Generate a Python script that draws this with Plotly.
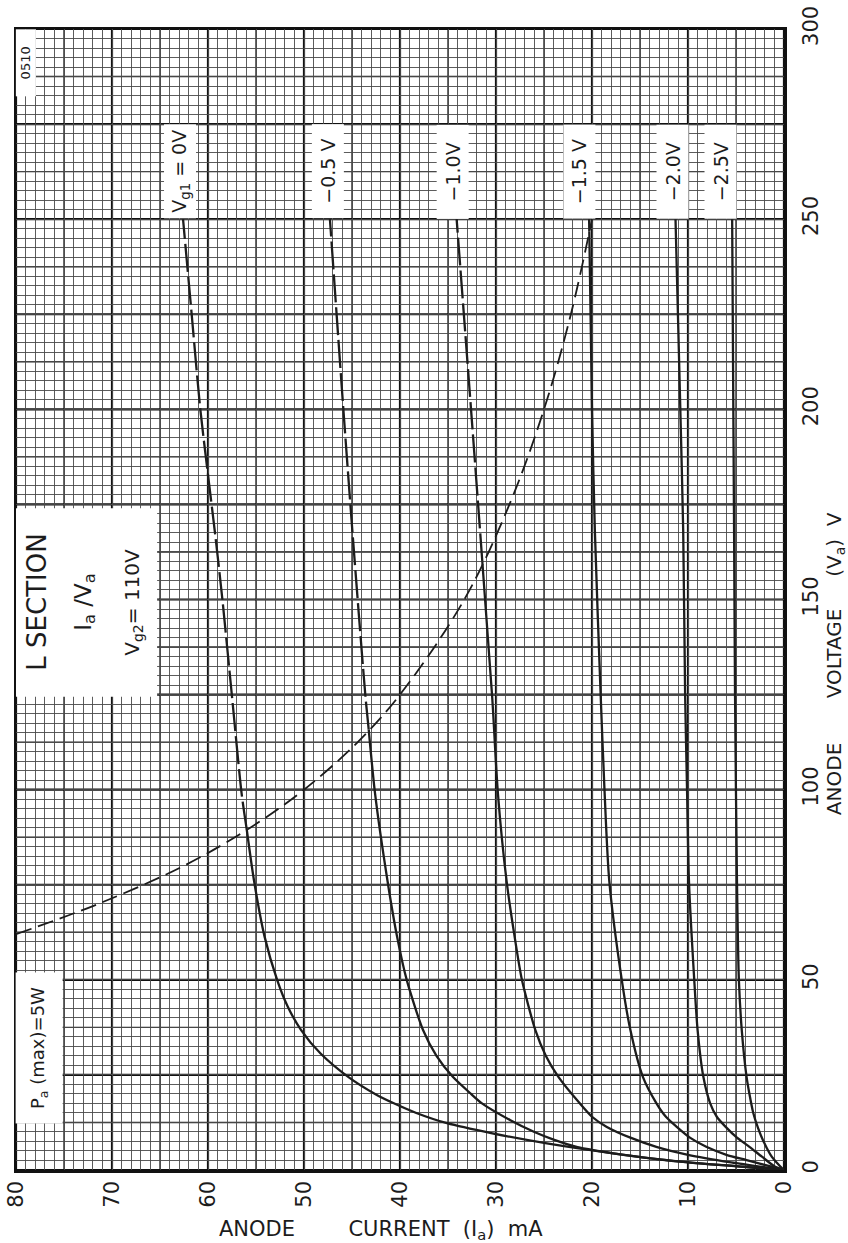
import numpy as np
import plotly.graph_objects as go

# ---- data: anode voltage (V) -> anode current (mA) ----
v_0v = [0, 1, 2.2, 4.4, 7, 9.7, 12.3, 15, 17.6, 20, 24.5, 30.7, 36.8, 43, 50, 61.3, 76, 99, 124.5, 150, 166, 200, 225, 250]
i_0v = [0, 5, 10.8, 17.8, 24.7, 30.5, 35.1, 38.3, 40.7, 42.6, 45.4, 48.3, 50.3, 51.7, 52.8, 54.1, 55.2, 56.5, 57.5, 58.5, 59.2, 60.8, 61.7, 62.6]

v_05v = [0, 2.2, 4.4, 6, 8, 10, 13.1, 17.6, 20, 24.5, 30, 36.8, 50, 61.3, 76, 99, 124.5, 166, 200, 250]
i_05v = [0, 10.8, 17.8, 21.5, 24, 26, 28.5, 31.5, 32.6, 34.5, 36.2, 37.6, 39.3, 40.3, 41.3, 42.6, 43.6, 44.9, 45.9, 47.3]

v_10v = [0, 2, 4, 6.1, 8.5, 11.4, 14, 17.6, 24.5, 30, 36.8, 50, 62, 76, 99, 124.5, 166, 200, 250]
i_10v = [0, 5.5, 10, 13.3, 16, 18.5, 20, 21.3, 23.5, 24.8, 25.9, 27.3, 28.1, 28.9, 29.8, 30.4, 31.6, 32.6, 34.1]

v_15v = [0, 1, 2.6, 4, 6.1, 8.5, 11.4, 14, 17.6, 24.5, 36.8, 50, 76, 100, 125, 168, 200, 250]
i_15v = [0, 1.5, 3.9, 6.0, 8.1, 9.8, 11.2, 12.3, 13.3, 14.7, 16.0, 16.9, 18.2, 18.7, 19.1, 19.7, 20.0, 20.3]

v_20v = [0, 1, 3.5, 6.1, 8.5, 11.4, 14, 17.6, 24.5, 36.8, 50, 76, 100, 125, 168, 200, 250]
i_20v = [0, 1.0, 2.3, 3.6, 4.9, 6.1, 7.0, 7.7, 8.4, 9.0, 9.35, 9.9, 10.1, 10.3, 10.5, 10.8, 11.3]

v_25v = [0, 1.5, 4, 7.9, 11, 15, 20, 24.5, 36.8, 50, 76, 125, 168, 250]
i_25v = [0, 0.6, 1.4, 2.2, 2.7, 3.2, 3.6, 3.9, 4.4, 4.7, 4.9, 5.1, 5.2, 5.4]

# Pa(max) = 5 W limit curve
v_pmax = [62, 70, 80, 90, 100, 112.5, 125, 150, 175, 200, 225, 250]
i_pmax = [80, 71.4, 62.5, 55.6, 50, 44.4, 40, 33.3, 28.6, 25, 22.2, 20]

curve_names = ["V<sub>g1</sub> = 0V", "−0.5 V", "−1.0V", "−1.5 V", "−2.0V", "−2.5V"]
curve_v = [v_0v, v_05v, v_10v, v_15v, v_20v, v_25v]
curve_i = [i_0v, i_05v, i_10v, i_15v, i_20v, i_25v]

x_ticks = list(range(0, 81, 10))
x_labels = [str(t) for t in x_ticks]
y_ticks = list(range(0, 301, 50))
y_labels = [str(t) for t in y_ticks]

FONT = "DejaVu Sans"
INK = "#1c1c1c"
SP = "\u00a0"

fig = go.Figure()


def split_at_limit(v, i):
    v = np.asarray(v, float)
    i = np.asarray(i, float)
    fine = np.linspace(v.min(), v.max(), 3000)
    diff = np.interp(fine, v, i) - np.interp(fine, v_pmax, i_pmax, left=np.inf, right=-np.inf)
    above = np.where(diff > 0)[0]
    if len(above) == 0 or fine[above[0]] >= v.max() - 1:
        return list(v), list(i), [], []
    vx = fine[above[0]]
    ix = np.interp(vx, v, i)
    lo = v < vx
    hi = v > vx
    vs = list(v[lo]) + [vx]
    is_ = list(i[lo]) + [ix]
    vd = [vx] + list(v[hi])
    idd = [ix] + list(i[hi])
    return vs, is_, vd, idd


for name, v, i in zip(curve_names, curve_v, curve_i):
    vs, is_, vd, idd = split_at_limit(v, i)
    fig.add_trace(go.Scatter(x=is_, y=vs, mode="lines", name=name,
                             line=dict(color=INK, width=2.3, shape="spline", smoothing=0.7),
                             showlegend=False, hoverinfo="skip"))
    if vd:
        fig.add_trace(go.Scatter(x=idd, y=vd, mode="lines", name=name,
                                 line=dict(color=INK, width=2.3, dash="28px,5px",
                                           shape="spline", smoothing=0.7),
                                 showlegend=False, hoverinfo="skip"))

fig.add_trace(go.Scatter(x=i_pmax, y=v_pmax, mode="lines", name="Pa(max)",
                         line=dict(color=INK, width=1.8, dash="16px,7px", shape="spline"),
                         showlegend=False, hoverinfo="skip"))

# graph-paper grid: medium lines every 5 mA / 12.5 V, heavy every 10 mA / 25 V
for xv in np.arange(0, 81, 5):
    heavy = (xv % 10 == 0)
    fig.add_shape(type="line", xref="x", yref="y", x0=xv, x1=xv, y0=0, y1=300,
                  line=dict(color="#111" if heavy else "#2a2a2a", width=2.2 if heavy else 1.4),
                  layer="below")
for yv in np.arange(0, 301, 12.5):
    heavy = (yv % 25 == 0)
    fig.add_shape(type="line", xref="x", yref="y", x0=0, x1=80, y0=yv, y1=yv,
                  line=dict(color="#111" if heavy else "#2a2a2a", width=2.2 if heavy else 1.4),
                  layer="below")

# curve labels (white boxes above the curve ends)
label_offsets = [0.3, 0.2, 0.4, 1.0, 0.3, 1.2]
for name, i, off in zip(curve_names, curve_i, label_offsets):
    fig.add_annotation(x=i[-1] + off, y=262.5, xref="x", yref="y", text=name,
                       textangle=-90, showarrow=False, bgcolor="white",
                       width=93, height=31, borderpad=0,
                       font=dict(family=FONT, size=19, color=INK))

# info box
fig.add_shape(type="rect", xref="x", yref="y", x0=80, x1=65.3, y0=124.4, y1=174,
              fillcolor="white", line=dict(width=0), layer="above")
for txt, xc, sz in [("L SECTION", 77.9, 26), ("I<sub>a</sub> /V<sub>a</sub>", 72.9, 23),
                    ("V<sub>g2</sub>= 110V", 67.9, 20)]:
    fig.add_annotation(x=xc, y=149.2, xref="x", yref="y", text=txt, textangle=-90,
                       showarrow=False, font=dict(family=FONT, size=sz, color=INK))

fig.add_annotation(x=77.6, y=32.1, xref="x", yref="y", text="P<sub>a</sub> (max)=5W",
                   textangle=-90, showarrow=False, bgcolor="white", width=150, height=46,
                   borderpad=0, font=dict(family=FONT, size=18, color=INK))

fig.add_annotation(x=79.0, y=291, xref="x", yref="y", text="0510",
                   textangle=-90, showarrow=False, bgcolor="white", width=66, height=19,
                   borderpad=0, font=dict(family=FONT, size=13, color=INK))

# axis titles
fig.add_annotation(x=42.0, y=0, xref="x", yref="paper",
                   text="ANODE" + SP * 8 + "CURRENT" + SP * 2 + "(I<sub>a</sub>)" + SP * 2 + "mA",
                   showarrow=False, xanchor="center", yanchor="top", yshift=-45,
                   font=dict(family=FONT, size=21, color=INK))
fig.add_annotation(x=1, y=133, xref="paper", yref="y",
                   text="ANODE" + SP * 7 + "VOLTAGE" + SP * 5 + "(V<sub>a</sub>)" + SP * 2 + "V",
                   textangle=-90, showarrow=False, xanchor="left", yanchor="middle", xshift=36,
                   font=dict(family=FONT, size=20, color=INK))

fig.update_xaxes(range=[80, 0], tickmode="array", tickvals=x_ticks, ticktext=x_labels,
                 tickangle=-90, showgrid=False,
                 minor=dict(tickmode="linear", tick0=0, dtick=1, showgrid=True,
                            gridcolor="#4a4a4a", gridwidth=0.9),
                 showline=True, mirror=True, linecolor="#111", linewidth=2.5,
                 ticks="", zeroline=False, tickfont=dict(family=FONT, size=21, color=INK))
fig.update_yaxes(range=[0, 300], side="right", tickmode="array", tickvals=y_ticks,
                 ticktext=y_labels, tickangle=-90, showgrid=False, ticklabelstandoff=6,
                 minor=dict(tickmode="linear", tick0=0, dtick=2.5, showgrid=True,
                            gridcolor="#4a4a4a", gridwidth=0.9),
                 showline=True, mirror=True, linecolor="#111", linewidth=2.5,
                 ticks="", zeroline=False, tickfont=dict(family=FONT, size=21, color=INK))

fig.update_layout(width=848, height=1243, margin=dict(l=16, r=64, t=29, b=73, autoexpand=False),
                  plot_bgcolor="white", paper_bgcolor="white", showlegend=False)

fig.write_html("out.html", config={"displayModeBar": False, "staticPlot": True},
               post_script="document.body.style.margin='0';document.body.style.overflow='hidden';")
